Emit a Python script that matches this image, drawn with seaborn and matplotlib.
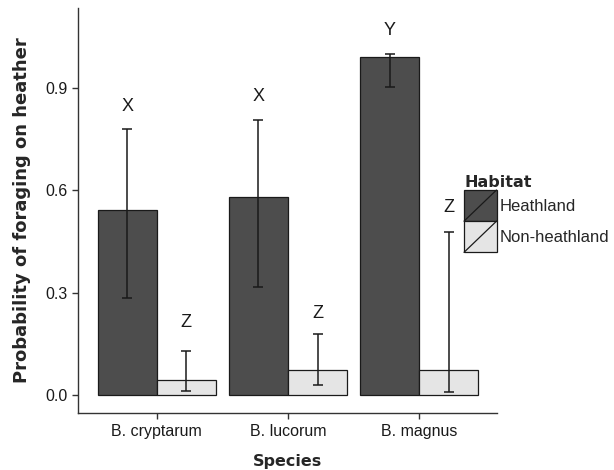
import pandas as pd
import matplotlib
matplotlib.use("Agg")
import matplotlib.pyplot as plt
import seaborn as sns
from matplotlib.legend_handler import HandlerPatch
from matplotlib.patches import Rectangle
from matplotlib.lines import Line2D

# data
species = ["B. cryptarum", "B. lucorum", "B. magnus"]
habitats = ["Heathland", "Non-heathland"]
heath_mean = [0.542, 0.581, 0.992]
heath_lo = [0.285, 0.317, 0.904]
heath_hi = [0.780, 0.808, 1.000]
nonheath_mean = [0.045, 0.073, 0.073]
nonheath_lo = [0.012, 0.029, 0.009]
nonheath_hi = [0.129, 0.180, 0.479]
heath_letters = ["X", "X", "Y"]
nonheath_letters = ["Z", "Z", "Z"]
heath_letter_y = [0.845, 0.875, 1.07]
nonheath_letter_y = [0.212, 0.240, 0.550]

df = pd.DataFrame({
    "Species": species * 2,
    "Habitat": [habitats[0]] * 3 + [habitats[1]] * 3,
    "mean": heath_mean + nonheath_mean,
    "lo": heath_lo + nonheath_lo,
    "hi": heath_hi + nonheath_hi,
    "letter": heath_letters + nonheath_letters,
    "ly": heath_letter_y + nonheath_letter_y,
})

sns.set_style("white")
plt.rcParams["font.family"] = ["Liberation Sans", "DejaVu Sans"]

fig = plt.figure(figsize=(6.14, 4.70), dpi=100)
ax = fig.add_axes([0.127, 0.121, 0.682, 0.862])

colors = {"Heathland": "#4d4d4d", "Non-heathland": "#e5e5e5"}
sns.barplot(data=df, x="Species", y="mean", hue="Habitat", palette=colors,
            order=species, hue_order=habitats, errorbar=None, width=0.9,
            edgecolor="#1a1a1a", linewidth=0.9, legend=False, ax=ax)

# error bars and letters
for cont, hab in zip(ax.containers, habitats):
    sub = df[df["Habitat"] == hab].set_index("Species").loc[species]
    for bar, (_, row) in zip(cont, sub.iterrows()):
        xc = bar.get_x() + bar.get_width() / 2
        ax.errorbar(xc, row["mean"],
                    yerr=[[row["mean"] - row["lo"]], [row["hi"] - row["mean"]]],
                    fmt="none", ecolor="#1a1a1a", elinewidth=1.1,
                    capsize=3.4, capthick=1.1)
        ax.text(xc, row["ly"], row["letter"], ha="center", va="center",
                fontsize=13, color="#1a1a1a")

ax.set_xlim(-0.6, 2.59)
ax.set_ylim(-0.053, 1.135)
ax.set_yticks([0.0, 0.3, 0.6, 0.9])
ax.set_yticklabels(["0.0", "0.3", "0.6", "0.9"])
sns.despine(ax=ax)
for s in ["left", "bottom"]:
    ax.spines[s].set_color("#333333")
    ax.spines[s].set_linewidth(1.0)
ax.tick_params(axis="both", which="both", direction="out", length=4,
               width=1.0, color="#333333", labelsize=11.5, labelcolor="#1a1a1a",
               left=True, bottom=True)
ax.set_xlabel("Species", fontsize=11.5, fontweight="bold",
              family=["DejaVu Sans"])
ax.set_ylabel("Probability of foraging on heather", fontsize=13,
              fontweight="bold", family=["DejaVu Sans"])
ax.xaxis.set_label_coords(0.5, -0.1)
ax.yaxis.set_label_coords(-0.112, 0.5)


class DiagHandler(HandlerPatch):
    def create_artists(self, legend, orig_handle, xdescent, ydescent,
                       width, height, fontsize, trans):
        r = Rectangle((-xdescent, -ydescent), width, height,
                      facecolor=orig_handle.get_facecolor(),
                      edgecolor="#1a1a1a", linewidth=0.9, transform=trans)
        ln = Line2D([-xdescent, -xdescent + width],
                    [-ydescent, -ydescent + height],
                    color="#1a1a1a", linewidth=0.9, transform=trans)
        return [r, ln]


handles = [Rectangle((0, 0), 1, 1, facecolor=colors[h]) for h in habitats]
leg = fig.legend(handles, habitats, title="Habitat", loc="upper left",
                 bbox_to_anchor=(464 / 614, 1 - 175 / 470), frameon=False,
                 fontsize=12, title_fontsize=11.5, handlelength=1.95,
                 handleheight=2.5, labelspacing=0.0, handletextpad=0.2,
                 borderpad=0.0, borderaxespad=0.0,
                 handler_map={Rectangle: DiagHandler()})
leg.get_title().set_fontweight("bold")
leg.get_title().set_family(["DejaVu Sans"])
leg._legend_box.align = "left"

fig.savefig("out.png", dpi=100)
